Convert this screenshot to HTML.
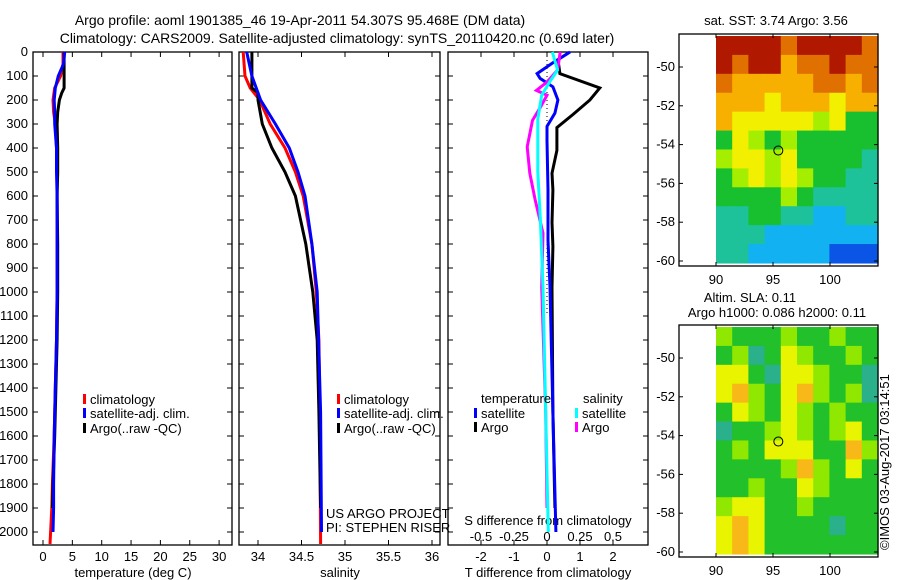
<!DOCTYPE html>
<html><head><meta charset="utf-8"><style>
html,body{margin:0;padding:0;background:#fff;}
svg{display:block;font-family:"Liberation Sans",sans-serif;font-size:12px;}
.big{font-size:14px;}
.mid{font-size:13px;}
</style></head><body>
<svg id="s" width="900" height="580" viewBox="0 0 900 580" xmlns="http://www.w3.org/2000/svg">
<text class="big" x="300" y="25" text-anchor="middle">Argo profile: aoml 1901385_46 19-Apr-2011 54.307S 95.468E (DM data)</text>
<text class="big" x="337" y="43" text-anchor="middle">Climatology: CARS2009. Satellite-adjusted climatology: synTS_20110420.nc (0.69d later)</text>
<text class="mid" x="776" y="25" text-anchor="middle">sat. SST: 3.74  Argo: 3.56</text>
<text class="mid" x="750" y="302" text-anchor="middle">Altim. SLA: 0.11</text>
<text class="mid" x="777" y="317" text-anchor="middle">Argo h1000: 0.086 h2000: 0.11</text>
<text class="mid" transform="translate(889,550) rotate(-90)">©IMOS 03-Aug-2017 03:14:51</text>
<g id="g"></g>
</svg>
<script>
// ---- data ----
const depthTicks=[0,100,200,300,400,500,600,700,800,900,1000,1100,1200,1300,1400,1500,1600,1700,1800,1900,2000];
const tTicks=[0,5,10,15,20,25,30];
const sTicks=[34,34.5,35,35.5,36];
const sTickLabels=["34","34.5","35","35.5","36"];
const dTTicks=[-2,-1,0,1,2];
const dSTickLabels=["-0.5","-0.25","0","0.25","0.5"];
const dSTicks=[-0.5,-0.25,0,0.25,0.5];

const climTDepth=[0,50,100,150,200,250,300,400,500,600,800,1000,1200,1400,1600,1800,1900,2000,2050];
const climT=[3.4,3.4,3.0,2.0,1.7,1.8,2.1,2.3,2.4,2.4,2.4,2.4,2.3,2.1,1.9,1.6,1.5,1.3,1.2];
const satTDepth=[0,50,100,150,200,250,300,400,500,600,800,1000,1200,1400,1600,1800,1900,2000];
const satT=[3.7,3.5,2.6,2.1,1.9,2.0,2.0,2.3,2.3,2.4,2.4,2.4,2.3,2.1,1.9,1.8,1.8,1.7];
const argoTDepth=[0,50,100,150,170,200,250,300,400,500,600,800,1000,1200,1400,1600,1800,1900];
const argoT=[3.6,3.6,3.6,3.6,3.2,2.8,2.5,2.4,2.5,2.5,2.4,2.5,2.5,2.4,2.2,2.0,1.7,1.6];

const climSDepth=[0,100,150,200,300,400,500,600,800,1000,1200,1500,2050];
const climS=[33.83,33.85,33.91,34.02,34.14,34.31,34.43,34.52,34.62,34.67,34.70,34.71,34.72];
const satSDepth=[0,50,100,200,300,400,500,600,800,1000,1500,2000];
const satS=[33.87,33.9,33.93,34.03,34.2,34.36,34.46,34.54,34.62,34.68,34.72,34.73];
const argoSDepth=[0,150,170,200,300,400,500,600,800,1000,1200,1500,1900];
const argoS=[33.93,33.93,34.0,34.0,34.05,34.16,34.31,34.43,34.55,34.63,34.68,34.70,34.72];

const satDTDepth=[0,5,45,90,110,145,200,255,310,370,575,785,980,1500,2000];
const satDT=[0.7,0.64,0.18,-0.3,-0.21,0.18,0.33,0.24,0,0,0.03,0.03,0.09,0.18,0.27];
const argoDTDepth=[30,90,110,150,200,260,315,410,505,575,710,810,980,1500,1900];
const argoDT=[0.33,0.39,0.79,1.6,1.3,0.79,0.3,0.3,0.15,0.18,0.15,0.18,0.15,0.18,0.24];
const argoDSDepth=[0,75,125,160,180,230,285,395,505,615,755,980,1500,1900];
const argoDS=[0.1,0.08,0,-0.08,0,-0.05,-0.11,-0.15,-0.13,-0.09,-0.03,-0.04,-0.01,0];
const satDSDepth=[0,75,125,180,280,500,700,980,1500,2000];
const satDS=[0.04,0.08,0.02,-0.04,-0.07,-0.07,-0.05,-0.03,-0.01,0.01];

const lonTicks=[90,95,100];
const latTicks=[-50,-52,-54,-56,-58,-60];
const sstGrid=[
[9,9,9,9,8,9,9,9,9,8],
[9,8,9,9,7,8,8,9,8,8],
[8,7,7,7,7,7,8,8,7,8],
[7,7,7,6,7,7,7,6,7,7],
[7,6,6,6,6,6,5,6,4,4],
[4,6,5,4,5,4,4,4,4,4],
[5,6,6,5,6,4,4,4,4,3],
[4,5,6,5,6,5,4,4,3,3],
[4,4,4,4,5,4,3,3,3,3],
[3,3,4,4,3,3,2,2,3,3],
[3,3,3,2,2,2,2,2,2,2],
[3,3,2,2,2,2,2,1,1,1]];
const slaGrid=[
[5,4,4,4,5,4,4,5,4,4],
[4,5,3,4,6,5,4,4,5,4],
[6,6,4,3,6,6,5,4,4,3],
[6,7,5,4,6,7,5,4,5,3],
[4,6,5,4,6,5,4,5,4,4],
[3,4,4,5,6,5,4,5,6,4],
[4,5,4,6,6,6,4,4,7,5],
[4,4,4,4,5,7,5,4,6,4],
[4,4,5,4,4,6,5,4,4,4],
[5,6,6,4,4,5,4,4,4,4],
[6,7,6,4,4,4,4,3,4,4],
[6,7,6,4,4,4,4,4,4,4]];
const floatLon=95.468, floatLat=-54.307;

// ---- drawing ----
const NS="http://www.w3.org/2000/svg";
const G=document.getElementById('g');
function mk(tag,attrs,parent){const e=document.createElementNS(NS,tag);for(const k in attrs)e.setAttribute(k,attrs[k]);(parent||G).appendChild(e);return e;}
const Y0=52,Y1=545;
const yD=d=>Y0+d*0.24;
const xT=t=>43+t*5.87;
const xS=s=>258+(s-34)*87;
const xDT=v=>547+v*33;
const xDS=v=>547+v*132;

function frame(x0,x1,name){
  const r=mk('rect',{x:x0,y:Y0,width:x1-x0,height:Y1-Y0,fill:'none',stroke:'#000','stroke-width':1.3});
  
  
  depthTicks.forEach(d=>{const y=yD(d);
    mk('line',{x1:x0,x2:x0+5,y1:y,y2:y,stroke:'#000'});
    mk('line',{x1:x1-5,x2:x1,y1:y,y2:y,stroke:'#000'});});
}
function xticks(vals,fx,labels,name,yl){
  vals.forEach((v,i)=>{const x=fx(v);
    mk('line',{x1:x,x2:x,y1:Y1,y2:Y1-5,stroke:'#000'});
    mk('line',{x1:x,x2:x,y1:Y0,y2:Y0+5,stroke:'#000'});
    const t=mk('text',{x:x,y:yl,'text-anchor':'middle','class':'mid'});t.textContent=labels[i];
    
    });
}
function line(depths,vals,fx,color,name){
  const p=depths.map((d,i)=>fx(vals[i]).toFixed(1)+','+yD(d).toFixed(1)).join(' ');
  const e=mk('polyline',{points:p,fill:'none',stroke:color,'stroke-width':3});
  
  
}
function label(x,y,txt,name,anchor,cls){const t=mk('text',{x:x,y:y,'text-anchor':anchor||'start','class':cls||'mid'});t.textContent=txt;
  
  }
function legend(x,y,color,txt,name){
  const r=mk('rect',{x:x,y:y-5,width:3,height:10,fill:color});
  
  
  label(x+7,y+5,txt,name);
}

// panel 1
frame(33,232,'temperature-panel');
depthTicks.forEach(d=>label(28,yD(d)+4,String(d),'depth-tick-label','end'));
xticks(tTicks,xT,tTicks.map(String),'temperature-tick-label',561);
label(133,577,'temperature (deg C)','temperature-axis-title','middle');
line(climTDepth,climT,xT,'#ff0000','temperature-climatology-line');
line(argoTDepth,argoT,xT,'#000000','temperature-argo-line');
line(satTDepth,satT,xT,'#0000ff','temperature-satellite-line');
legend(83,399,'#ff0000','climatology','legend-climatology');
legend(83,413,'#0000ff','satellite-adj. clim.','legend-satellite');
legend(83,428,'#000000','Argo(..raw -QC)','legend-argo');

// panel 2
frame(239,440,'salinity-panel');
xticks(sTicks,xS,sTickLabels,'salinity-tick-label',561);
label(340,577,'salinity','salinity-axis-title','middle');
line(climSDepth,climS,xS,'#ff0000','salinity-climatology-line');
line(argoSDepth,argoS,xS,'#000000','salinity-argo-line');
line(satSDepth,satS,xS,'#0000ff','salinity-satellite-line');
legend(337,399,'#ff0000','climatology','legend-climatology-2');
legend(337,413,'#0000ff','satellite-adj. clim.','legend-satellite-2');
legend(337,428,'#000000','Argo(..raw -QC)','legend-argo-2');
label(326,518,'US ARGO PROJECT','project-label');
label(326,532,'PI: STEPHEN RISER','pi-label');

// panel 3
frame(448,648,'difference-panel');
xticks(dTTicks,xDT,dTTicks.map(String),'t-diff-tick-label',561);
dSTicks.forEach((v,i)=>label(xDS(v),541,dSTickLabels[i],'s-diff-tick-label','middle'));
label(548,525,'S difference from climatology','s-diff-axis-title','middle');
label(548,577,'T difference from climatology','t-diff-axis-title','middle');
mk('line',{x1:xDT(0),x2:xDT(0),y1:Y0,y2:yD(1100),stroke:'#000','stroke-dasharray':'1,3'});
line(argoDTDepth,argoDT,xDT,'#000000','t-diff-argo-line');
line(satDTDepth,satDT,xDT,'#0000ff','t-diff-satellite-line');
line(argoDSDepth,argoDS,xDS,'#ff00ff','s-diff-argo-line');
line(satDSDepth,satDS,xDS,'#00ffff','s-diff-satellite-line');
label(481,403,'temperature','legend-temperature-heading');
legend(474,413,'#0000ff','satellite','legend-t-satellite');
legend(474,427,'#000000','Argo','legend-t-argo');
label(583,403,'salinity','legend-salinity-heading');
legend(575,413,'#00ffff','satellite','legend-s-satellite');
legend(575,427,'#ff00ff','Argo','legend-s-argo');

// maps
const cmap={1:'#0a55e6',2:'#12b2f2',3:'#1ec29a',4:'#18c030',5:'#a6ee00',6:'#f2f000',7:'#f8b000',8:'#e07000',9:'#b01800'};
const sla={3:'#2ab08a',4:'#22c02a',5:'#90e800',6:'#e8f400',7:'#f8b818'};
function map(top,grid,colors,name){
  const fx=lon=>716+(lon-90)*11.4;
  const fy=lat=>top+33+(-50-lat)*19.4;
  const x0=679,x1=878,yT=top,yB=fy(-60)+5;
  const gx0=fx(90),gx1=878,gy0=top+2,gy1=fy(-60.1);
  const rows=grid.length,cols=grid[0].length;
  const cw=(gx1-gx0)/cols,ch=(gy1-gy0)/rows;
  grid.forEach((row,r)=>row.forEach((v,c)=>{
    const e=mk('rect',{x:(gx0+c*cw).toFixed(2),y:(gy0+r*ch).toFixed(2),width:(cw+0.6).toFixed(2),height:(ch+0.6).toFixed(2),fill:colors[v]});
    
    
  }));
  const f=mk('rect',{x:x0,y:yT,width:x1-x0,height:yB-yT,fill:'none',stroke:'#000','stroke-width':1.3});
  
  
  latTicks.forEach(l=>{const y=fy(l);
    mk('line',{x1:x0,x2:x0+4,y1:y,y2:y,stroke:'#000'});
    mk('line',{x1:x1-4,x2:x1,y1:y,y2:y,stroke:'#000'});
    label(x0-4,y+4,String(l),name+'-lat-label','end');});
  lonTicks.forEach(l=>{const x=fx(l);
    mk('line',{x1:x,x2:x,y1:yB,y2:yB-4,stroke:'#000'});
    mk('line',{x1:x,x2:x,y1:yT,y2:yT+4,stroke:'#000'});
    label(x,yB+18,String(l),name+'-lon-label','middle');});
  const m=mk('circle',{cx:fx(floatLon),cy:fy(floatLat),r:4.5,fill:'none',stroke:'#000','stroke-width':1});
  
  
}
map(34,sstGrid,cmap,'sst-map');
map(325,slaGrid,sla,'sla-map');
</script>
</body></html>
